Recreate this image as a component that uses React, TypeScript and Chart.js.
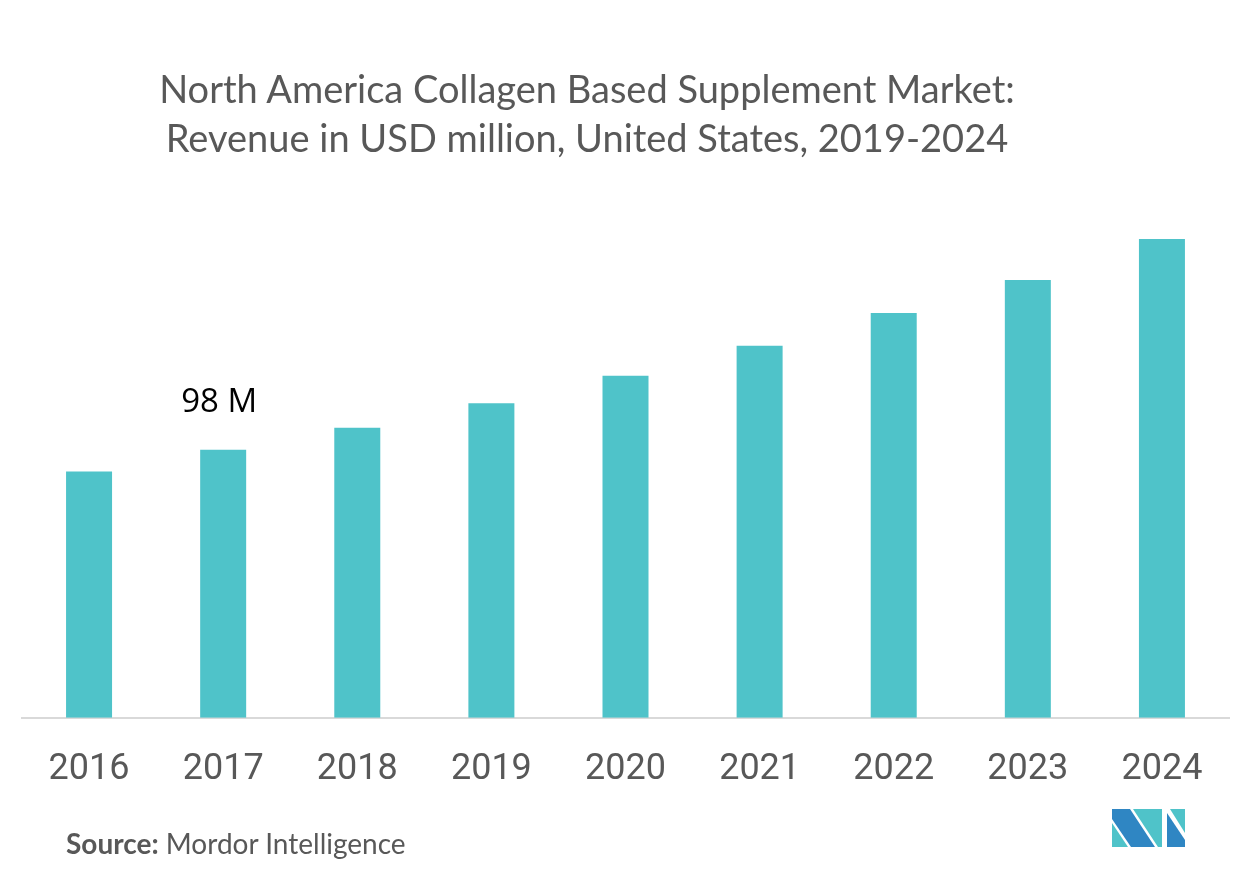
import React, { useEffect, useRef } from "react";
import { Chart, registerables } from "chart.js";

Chart.register(...registerables);

const categories = ["2016", "2017", "2018", "2019", "2020", "2021", "2022", "2023", "2024"];
const revenue = [90, 98, 106, 115, 125, 136, 148, 160, 175];
const labelledIndex = 1;
const labelText = "98 M";
const titleLines = [
  "North America Collagen Based Supplement Market:",
  "Revenue in USD million, United States, 2019-2024",
];

const BAR_COLOR = "#4fc3c9";
const TEXT_GRAY = "#585858";

const valueLabelPlugin = {
  id: "valueLabel",
  afterDatasetsDraw(chart: any) {
    const meta = chart.getDatasetMeta(0);
    const el = meta.data[labelledIndex];
    if (!el) return;
    const ctx = chart.ctx;
    ctx.save();
    ctx.font = "33px 'Open Sans', 'Noto Sans', sans-serif";
    ctx.fillStyle = "#000000";
    ctx.textAlign = "center";
    ctx.textBaseline = "alphabetic";
    ctx.fillText(labelText, el.x - 4, el.y - 38);
    ctx.restore();
  },
};

function Logo() {
  return (
    <svg
      width={73}
      height={38}
      viewBox="0 0 73 38"
      style={{ position: "absolute", left: 1112, top: 809 }}
    >
      <polygon points="0,14 0,38 16,38" fill="#4fc3c9" />
      <polygon points="0,0 18,0 43,38 19,38 0,10" fill="#2f86c3" />
      <polygon points="21,0 50,0 50,38 46,38" fill="#4fc3c9" />
      <polygon points="55,4 73,31 73,38 55,38" fill="#2f86c3" />
      <polygon points="58,0 73,0 73,24" fill="#4fc3c9" />
    </svg>
  );
}

export default function App() {
  const canvasRef = useRef<HTMLCanvasElement | null>(null);

  useEffect(() => {
    if (!canvasRef.current) return;
    const chart = new Chart(canvasRef.current, {
      type: "bar",
      data: {
        labels: categories,
        datasets: [
          {
            data: revenue,
            backgroundColor: BAR_COLOR,
            barPercentage: 0.343,
            categoryPercentage: 1,
          },
        ],
      },
      options: {
        animation: false,
        responsive: false,
        maintainAspectRatio: false,
        devicePixelRatio: 1,
        layout: { padding: { top: 198, left: 22, right: 23, bottom: 57 } },
        plugins: {
          legend: { display: false },
          tooltip: { enabled: false },
          title: { display: false },
        },
        scales: {
          x: {
            grid: { display: false, drawTicks: false },
            border: { display: true, color: "#d9d9d9", width: 2 },
            ticks: {
              color: TEXT_GRAY,
              padding: 31,
              font: { family: "'Liberation Sans Narrow', 'Roboto', sans-serif", size: 36 },
            },
          },
          y: {
            display: false,
            min: 0,
            max: 190,
          },
        },
      },
      plugins: [valueLabelPlugin],
    });
    return () => chart.destroy();
  }, []);

  return (
    <div
      style={{
        position: "fixed",
        left: 0,
        top: 0,
        width: 1252,
        height: 880,
        background: "#ffffff",
        overflow: "hidden",
      }}
    >
      <canvas
        ref={canvasRef}
        width={1252}
        height={880}
        style={{ position: "absolute", left: 0, top: 0, width: 1252, height: 880 }}
      />
      <div
        style={{
          position: "absolute",
          left: 0,
          top: 64,
          width: 1174,
          textAlign: "center",
          fontFamily: "Lato, sans-serif",
          fontSize: 38,
          lineHeight: "49px",
          color: TEXT_GRAY,
        }}
      >
        {titleLines.map((t) => (
          <div key={t}>{t}</div>
        ))}
      </div>
      <div
        style={{
          position: "absolute",
          left: 66,
          top: 826,
          fontFamily: "Lato, sans-serif",
          fontSize: 28,
          color: TEXT_GRAY,
          whiteSpace: "nowrap",
        }}
      >
        <b>Source:</b> Mordor Intelligence
      </div>
      <Logo />
    </div>
  );
}
